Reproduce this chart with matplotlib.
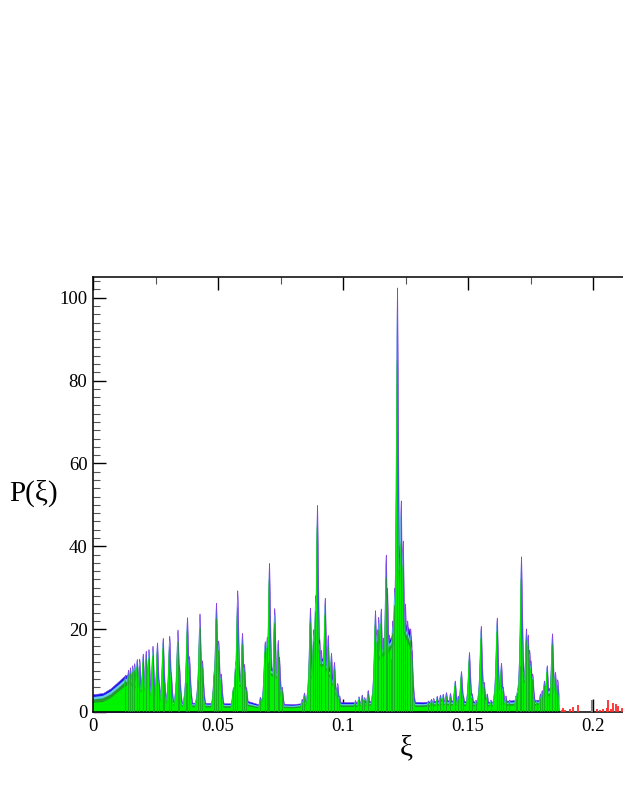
import numpy as np
import matplotlib
matplotlib.use("Agg")
import matplotlib.pyplot as plt
from matplotlib.ticker import MultipleLocator, FuncFormatter

# ---------------- data ----------------
# background (valley / cluster-body) levels of each layer
base_xi = [0.0, 0.004, 0.007, 0.010, 0.0125, 0.0145, 0.0185, 0.022, 0.0256, 0.030,
           0.035, 0.045, 0.055, 0.0565, 0.0575, 0.0600, 0.0612, 0.066, 0.0683, 0.0690,
           0.0705, 0.0735, 0.0755, 0.0762, 0.080, 0.0860, 0.0868, 0.0890, 0.0925, 0.0950,
           0.0975, 0.0985, 0.105, 0.1118, 0.1125, 0.1150, 0.1180, 0.1210, 0.1240, 0.1265,
           0.1274, 0.1278, 0.132, 0.140, 0.150, 0.160, 0.1692, 0.1705, 0.1715, 0.1740,
           0.1758, 0.1766, 0.1785, 0.1810, 0.1835, 0.1858, 0.1863]
base_blue = [4.3, 4.6, 5.7, 7.3, 8.7, 9.3, 7.0, 5.6, 4.2, 3.0,
             2.3, 2.2, 2.1, 3.5, 8.0, 8.0, 2.8, 1.9, 2.8, 9.0,
             11.0, 10.0, 4.0, 2.0, 1.9, 2.3, 9.0, 13.0, 13.0, 10.0,
             5.0, 2.4, 2.4, 2.7, 13.0, 16.0, 17.0, 20.0, 22.0, 20.0,
             17.0, 2.5, 2.4, 2.9, 2.6, 2.5, 2.9, 7.0, 9.0, 9.0,
             6.0, 2.8, 3.0, 5.5, 6.0, 5.5, 0.0]
base_cyan = [3.6, 3.9, 4.9, 6.4, 7.7, 8.3, 6.2, 4.9, 3.6, 2.5,
             1.9, 1.8, 1.7, 3.0, 7.2, 7.2, 2.3, 1.5, 2.3, 8.2,
             10.2, 9.2, 3.4, 1.6, 1.5, 1.9, 8.2, 12.2, 12.2, 9.2,
             4.2, 1.9, 1.9, 2.2, 11.8, 14.8, 15.8, 18.8, 20.8, 18.4,
             15.4, 2.0, 1.9, 2.4, 2.1, 2.0, 2.4, 6.2, 8.2, 8.2,
             5.2, 2.3, 2.5, 4.7, 5.2, 4.7, 0.0]
base_dkgreen = [3.0, 3.3, 4.2, 5.7, 7.0, 7.5, 5.6, 4.4, 3.2, 2.1,
                1.6, 1.5, 1.4, 2.5, 6.6, 6.6, 1.9, 1.2, 1.9, 7.6,
                9.6, 8.6, 3.0, 1.3, 1.2, 1.6, 7.6, 11.6, 11.6, 8.6,
                3.6, 1.6, 1.6, 1.9, 11.0, 14.0, 15.0, 18.0, 20.0, 17.5,
                14.5, 1.6, 1.6, 2.0, 1.8, 1.7, 2.0, 5.6, 7.6, 7.6,
                4.6, 1.9, 2.1, 4.2, 4.6, 4.2, 0.0]
base_green = [2.2, 2.4, 3.3, 4.8, 6.0, 6.5, 5.0, 3.8, 2.8, 1.7,
              1.2, 1.1, 1.0, 2.0, 6.0, 6.0, 1.5, 0.9, 1.5, 7.0,
              9.0, 8.0, 2.5, 1.0, 0.9, 1.2, 7.0, 11.0, 11.0, 8.0,
              3.0, 1.2, 1.2, 1.5, 10.0, 13.0, 14.0, 17.0, 19.0, 16.0,
              13.0, 1.2, 1.2, 1.6, 1.4, 1.3, 1.6, 5.0, 7.0, 7.0,
              4.0, 1.5, 1.8, 3.5, 4.0, 3.5, 0.0]

# peak positions and tip heights of each layer
peak_xi = [0.0128, 0.0140, 0.0148, 0.0157, 0.0165, 0.0175, 0.0185, 0.0199, 0.0211, 0.0222,
           0.0238, 0.0243, 0.0256, 0.0262, 0.0279, 0.0284, 0.0305, 0.0311, 0.0338, 0.0344,
           0.0372, 0.0376, 0.0384, 0.0420, 0.0426, 0.0436, 0.0484, 0.0492, 0.0501, 0.0511,
           0.0560, 0.0569, 0.0577, 0.0596, 0.0604, 0.0612, 0.0668, 0.0687, 0.0695, 0.0700,
           0.0704, 0.0725, 0.0739, 0.0744, 0.0755, 0.0835, 0.0844, 0.0868, 0.0881, 0.0889,
           0.0896, 0.0905, 0.0912, 0.0927, 0.0939, 0.0952, 0.0964, 0.0977, 0.0985, 0.1048,
           0.1062, 0.1075, 0.1085, 0.1099, 0.1128, 0.1135, 0.1141, 0.1151, 0.1160, 0.1171,
           0.1176, 0.1183, 0.1190, 0.1197, 0.1205, 0.1216, 0.1224, 0.1231, 0.1239, 0.1248,
           0.1257, 0.1269, 0.1274, 0.1340, 0.1352, 0.1361, 0.1375, 0.1388, 0.1399, 0.1412,
           0.1428, 0.1447, 0.1460, 0.1472, 0.1480, 0.1504, 0.1515, 0.1530, 0.1551, 0.1563,
           0.1575, 0.1590, 0.1615, 0.1624, 0.1632, 0.1639, 0.1650, 0.1665, 0.1690, 0.1697,
           0.1708, 0.1712, 0.1721, 0.1732, 0.1739, 0.1745, 0.1750, 0.1757, 0.1764, 0.1775,
           0.1788, 0.1795, 0.1804, 0.1815, 0.1824, 0.1836, 0.1848, 0.1857]
peak_blue = [9.0, 10.2, 10.8, 11.3, 11.8, 12.8, 12.9, 14.1, 14.8, 15.2,
             16.0, 7.5, 16.8, 8.0, 17.9, 8.5, 18.4, 9.7, 19.9, 11.3,
             8.0, 22.9, 13.5, 9.0, 23.8, 12.5, 10.5, 26.4, 17.3, 9.3,
             6.0, 12.1, 29.4, 19.1, 11.6, 6.0, 3.7, 17.1, 18.2, 14.0,
             36.0, 25.1, 17.4, 13.3, 6.1, 3.2, 4.7, 25.2, 20.0, 28.2,
             50.0, 17.8, 15.0, 27.6, 18.6, 14.3, 12.1, 7.0, 4.0, 2.9,
             3.8, 4.2, 3.6, 5.3, 24.6, 20.0, 23.0, 25.0, 18.0, 38.0,
             30.0, 18.7, 15.0, 22.1, 30.0, 102.5, 40.0, 51.1, 41.4, 26.2,
             22.1, 20.2, 15.0, 2.8, 3.2, 3.4, 3.9, 4.2, 4.4, 4.8,
             4.6, 7.6, 4.0, 9.9, 4.0, 14.5, 4.5, 3.0, 20.8, 7.3,
             4.5, 3.0, 22.8, 5.5, 11.9, 6.1, 4.0, 3.0, 4.0, 5.7,
             12.9, 37.6, 10.6, 20.2, 18.7, 15.0, 12.5, 9.3, 3.5, 3.0,
             4.5, 5.3, 7.6, 11.3, 5.3, 19.0, 9.7, 7.9]
peak_cyan = [8.4, 9.6, 10.1, 10.6, 11.0, 12.0, 12.1, 13.2, 13.9, 14.3,
             15.0, 7.0, 15.8, 7.5, 16.8, 8.0, 17.3, 9.1, 18.7, 10.6,
             7.5, 21.5, 12.7, 8.5, 22.4, 11.8, 9.9, 24.8, 16.3, 8.7,
             5.6, 11.4, 27.6, 18.0, 10.9, 5.6, 3.3, 16.1, 17.1, 13.2,
             33.8, 23.6, 16.4, 12.5, 5.7, 2.9, 4.3, 23.7, 18.8, 26.5,
             47.0, 16.7, 14.1, 25.9, 17.5, 13.4, 11.4, 6.6, 3.7, 2.6,
             3.5, 3.9, 3.3, 4.9, 23.1, 18.8, 21.6, 23.5, 16.9, 35.7,
             28.2, 17.6, 14.1, 20.8, 28.2, 97.0, 37.6, 48.0, 38.9, 24.6,
             20.8, 19.0, 14.1, 2.5, 2.9, 3.1, 3.5, 3.8, 4.0, 4.4,
             4.2, 7.1, 3.6, 9.3, 3.6, 13.6, 4.1, 2.7, 19.6, 6.8,
             4.1, 2.7, 21.4, 5.1, 11.2, 5.7, 3.6, 2.7, 3.6, 5.3,
             12.1, 35.3, 10.0, 19.0, 17.6, 14.1, 11.8, 8.7, 3.2, 2.7,
             4.1, 4.9, 7.1, 10.6, 4.9, 17.9, 9.1, 7.4]
peak_green = [7.8, 8.8, 9.3, 9.7, 10.1, 11.0, 11.1, 12.1, 12.7, 13.1,
              13.8, 6.4, 14.4, 6.9, 15.4, 7.3, 15.8, 8.3, 17.1, 9.7,
              6.9, 19.7, 11.6, 7.7, 20.5, 10.8, 9.0, 22.7, 14.9, 8.0,
              5.2, 10.4, 25.3, 16.4, 10.0, 5.2, 2.8, 14.7, 15.7, 12.0,
              31.8, 21.6, 15.0, 11.4, 5.2, 2.5, 3.8, 21.7, 17.2, 24.3,
              45.0, 15.3, 12.9, 23.7, 16.0, 12.3, 10.4, 6.0, 3.3, 2.2,
              3.0, 3.4, 2.9, 4.3, 21.2, 17.2, 19.8, 21.5, 15.5, 32.7,
              25.8, 16.1, 12.9, 19.0, 25.8, 85.0, 34.4, 41.0, 35.6, 22.5,
              19.0, 17.4, 12.9, 2.1, 2.4, 2.6, 3.0, 3.3, 3.4, 3.8,
              3.6, 6.4, 3.1, 8.5, 3.1, 12.5, 3.5, 2.3, 17.9, 6.1,
              3.5, 2.3, 19.6, 4.4, 10.2, 5.0, 3.1, 2.3, 3.1, 4.7,
              11.1, 32.3, 9.1, 17.4, 16.1, 12.9, 10.8, 8.0, 2.7, 2.3,
              3.5, 4.3, 6.4, 9.7, 4.3, 16.3, 8.3, 6.6]

# sparse tail (red) beyond the end of the spectrum, and one grey bar
tail_xi = [0.1875, 0.1881, 0.1887, 0.1908, 0.1921, 0.1941, 0.2015, 0.2028, 0.2040,
           0.2055, 0.2061, 0.2070, 0.2081, 0.2092, 0.2101, 0.2115]
tail_p = [0.6, 0.9, 0.5, 0.7, 1.3, 1.6, 0.7, 0.5, 0.8, 0.9, 2.9, 0.8, 2.1, 2.0, 1.5, 1.0]
grey_xi = [0.1995]
grey_p = [2.9]

x_ticks = [0, 0.05, 0.1, 0.15, 0.2]
y_ticks = [0, 20, 40, 60, 80, 100]

# ---------------- drawing ----------------
C_EDGE = "#8a40e0"
C_BLUE = "#1818f0"
C_CYAN = "#66c8e6"
C_DKGREEN = "#239a2e"
C_GREEN = "#00f400"

W, H = 623, 806
fig = plt.figure(figsize=(W / 100, H / 100), dpi=100)
x_max = 0.25
ax = fig.add_axes([93 / W, (806 - 712) / H, x_max * 2500 / W, (712 - 277) / H])
ax.set_xlim(0, x_max)
ax.set_ylim(0, 105)

grid = np.linspace(0.0, 0.18625, 30000)
px = np.array(peak_xi)[:, None]


def envelope(heights, gamma):
    h = np.array(heights)[:, None]
    return (h / (1.0 + ((grid[None, :] - px) / gamma) ** 2)).max(axis=0)


layers = [
    (base_blue, peak_blue, C_BLUE, 0.00062, C_EDGE),
    (base_cyan, peak_cyan, C_CYAN, 0.00057, None),
    (base_dkgreen, peak_green, C_DKGREEN, 0.00052, None),
    (base_green, peak_green, C_GREEN, 0.00047, None),
]
for base, peaks, col, g, edge in layers:
    env = envelope(peaks, g)
    if edge:
        ax.fill_between(base_xi, 0, base, facecolor=col, edgecolor=edge, linewidth=0.4, zorder=2)
        ax.fill_between(grid, 0, env, facecolor=col, edgecolor=edge, linewidth=0.4, zorder=2)
    else:
        ax.fill_between(base_xi, 0, base, facecolor=col, linewidth=0, zorder=2)
        ax.fill_between(grid, 0, env, facecolor=col, linewidth=0, zorder=2)

# dark-green cores of the peaks
ax.vlines(peak_xi, 0, peak_green, colors=C_DKGREEN, linewidth=0.6, alpha=0.85, zorder=3)

ax.vlines(tail_xi, 0, tail_p, colors="#ff2a2a", linewidth=1.3, zorder=3)
ax.vlines(grey_xi, 0, grey_p, colors="#808080", linewidth=1.5, zorder=3)

serif = ["Liberation Serif", "DejaVu Serif"]
ax.set_xticks(x_ticks)
ax.set_yticks(y_ticks)
ax.xaxis.set_major_formatter(FuncFormatter(lambda v, p: "%g" % v))
ax.xaxis.set_minor_locator(MultipleLocator(0.025))
ax.yaxis.set_minor_locator(MultipleLocator(2))
ax.tick_params(which="both", direction="in", top=True, right=True, colors="black")
ax.tick_params(which="major", length=9.5, width=1.0, labelsize=13.5, pad=4)
ax.tick_params(which="minor", length=5.0, width=0.8, color="#555555")
for lab in ax.get_xticklabels() + ax.get_yticklabels():
    lab.set_family(serif)
for s in ax.spines.values():
    s.set_linewidth(1.1)

fig.text(34 / W, 1 - 493 / H, "P(ξ)", family=serif, fontsize=21, ha="center", va="center")
fig.text(406 / W, 1 - 748 / H, "ξ", family=serif, fontsize=21, ha="center", va="center")

fig.savefig("out.png", dpi=100)
